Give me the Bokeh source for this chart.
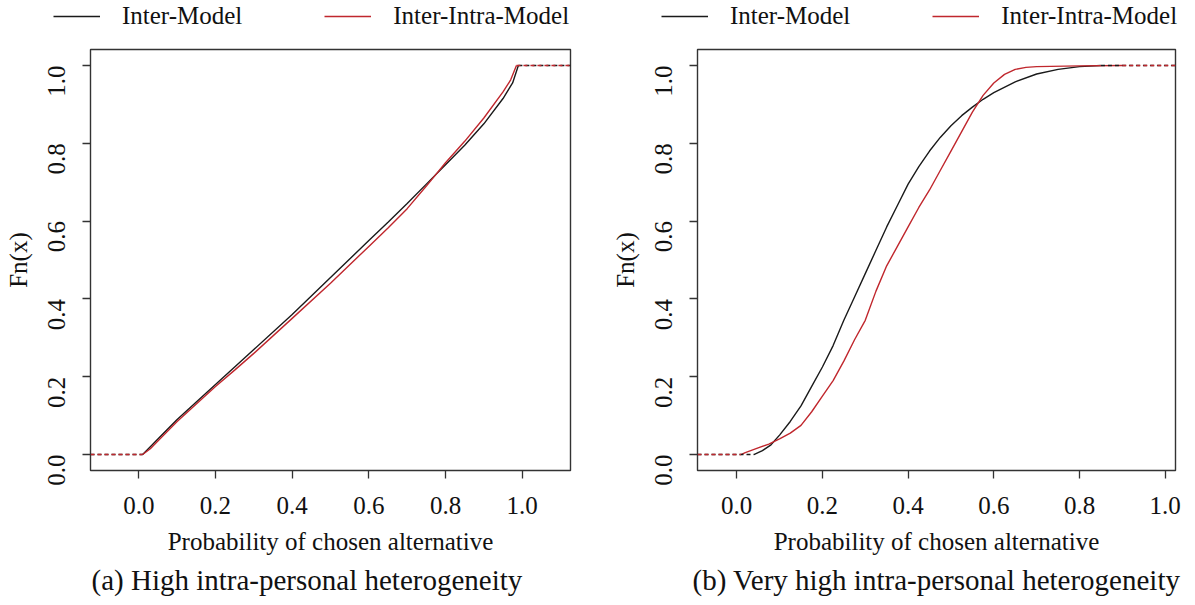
import math
from bokeh.plotting import figure
from bokeh.models import Legend, LegendItem, Title, FixedTicker, Range1d, NumeralTickFormatter
from bokeh.layouts import row, column
from bokeh.embed import file_html
from bokeh.resources import INLINE

FONT = "Liberation Serif"
BLACK = "#1a1a1a"
RED = "#c0272d"
TXT = "#111111"

series_names = ["Inter-Model", "Inter-Intra-Model"]
ticks = [0.0, 0.2, 0.4, 0.6, 0.8, 1.0]
y_label = "Fn(x)"
x_label = "Probability of chosen alternative"
captions = ["(a) High intra-personal heterogeneity",
            "(b) Very high intra-personal heterogeneity"]

# Panel (a): High intra-personal heterogeneity
a_inter_x = [0.01, 0.03, 0.06, 0.10, 0.15, 0.20, 0.25, 0.30, 0.40, 0.50, 0.60, 0.65, 0.70, 0.75, 0.80, 0.85, 0.90,
             0.95, 0.975, 0.99]
a_inter_y = [0.00, 0.02, 0.05, 0.09, 0.135, 0.18, 0.225, 0.27, 0.36, 0.455, 0.55, 0.597, 0.645, 0.695, 0.745, 0.795,
             0.85, 0.915, 0.955, 1.00]
a_intra_x = [0.01, 0.03, 0.06, 0.10, 0.15, 0.20, 0.25, 0.30, 0.40, 0.50, 0.60, 0.65, 0.70, 0.75, 0.80, 0.85, 0.90,
             0.95, 0.97, 0.985]
a_intra_y = [0.00, 0.015, 0.045, 0.085, 0.13, 0.175, 0.217, 0.26, 0.35, 0.44, 0.535, 0.582, 0.632, 0.69, 0.75, 0.805,
             0.865, 0.932, 0.963, 1.00]

# Panel (b): Very high intra-personal heterogeneity
b_inter_x = [0.04, 0.06, 0.08, 0.10, 0.125, 0.15, 0.175, 0.20, 0.225, 0.25, 0.275, 0.30, 0.325, 0.35, 0.375, 0.40,
             0.425, 0.45, 0.475, 0.50, 0.525, 0.55, 0.575, 0.60, 0.65, 0.70, 0.75, 0.80, 0.85]
b_inter_y = [0.00, 0.01, 0.025, 0.05, 0.085, 0.125, 0.175, 0.225, 0.28, 0.345, 0.405, 0.465, 0.525, 0.585, 0.64, 0.695,
             0.74, 0.78, 0.815, 0.845, 0.871, 0.893, 0.913, 0.93, 0.958, 0.978, 0.99, 0.997, 1.00]
b_intra_x = [0.01, 0.02, 0.05, 0.075, 0.10, 0.125, 0.15, 0.175, 0.20, 0.225, 0.25, 0.275, 0.30, 0.325, 0.35, 0.375,
             0.40, 0.425, 0.45, 0.475, 0.50, 0.525, 0.55, 0.575, 0.60, 0.625, 0.65, 0.675, 0.70, 0.80, 0.90]
b_intra_y = [0.00, 0.005, 0.017, 0.027, 0.04, 0.055, 0.075, 0.11, 0.15, 0.19, 0.24, 0.295, 0.345, 0.42, 0.485, 0.535,
             0.585, 0.635, 0.68, 0.73, 0.78, 0.83, 0.88, 0.923, 0.955, 0.977, 0.99, 0.995, 0.997, 0.999, 1.00]


def make_legend_strip(width, leg_x):
    s = figure(width=width, height=40, output_backend="svg", toolbar_location=None,
               x_range=Range1d(0, 1), y_range=Range1d(0, 1),
               x_axis_location=None, y_axis_location=None, min_border=0,
               min_border_left=0, min_border_right=0, min_border_top=0, min_border_bottom=0)
    s.outline_line_color = None
    s.grid.visible = False
    s.background_fill_color = "white"
    s.border_fill_color = "white"
    # legend proxies: kept outside the visible range so only the legend swatch shows
    rs = [s.line(x=[-5, -4], y=[-5, -4], line_color=c, line_width=1.4) for c in (BLACK, RED)]
    legend = Legend(items=[LegendItem(label=n, renderers=[r]) for n, r in zip(series_names, rs)],
                    orientation="horizontal", location=(leg_x, 10),
                    glyph_width=47, glyph_height=20, label_standoff=22, spacing=82,
                    padding=0, margin=0, border_line_color=None, background_fill_alpha=0,
                    label_text_font=FONT, label_text_font_size="25px", label_text_color=TXT)
    s.add_layout(legend)
    return s


def make_panel(xr, series, caption, width, bl, br, cap_align, cap_offset):
    p = figure(width=width, height=562, output_backend="svg", toolbar_location=None,
               x_range=Range1d(*xr), y_range=Range1d(-0.041, 1.041),
               min_border_left=bl, min_border_right=br, min_border_top=9, min_border_bottom=132)
    p.background_fill_color = "white"
    p.border_fill_color = "white"
    p.outline_line_color = "#333333"
    p.outline_line_width = 1.4
    p.grid.visible = False

    for (xs, ys), col in zip(series, [BLACK, RED]):
        p.line(xs, ys, line_color=col, line_width=1.4)
    for (xs, ys), col in zip(series, [BLACK, RED]):
        p.line([xr[0], xs[0]], [ys[0], ys[0]], line_color=col, line_width=1.6, line_dash="4 3")
        p.line([xs[-1], xr[1]], [ys[-1], ys[-1]], line_color=col, line_width=1.6, line_dash="4 3")

    for ax in (p.xaxis[0], p.yaxis[0]):
        ax.ticker = FixedTicker(ticks=ticks)
        ax.formatter = NumeralTickFormatter(format="0.0")
        ax.axis_line_color = None
        ax.major_tick_out = 8
        ax.major_tick_in = 0
        ax.major_tick_line_color = "#333333"
        ax.major_tick_line_width = 1.3
        ax.minor_tick_line_color = None
        ax.major_label_text_font = FONT
        ax.major_label_text_font_size = "25px"
        ax.major_label_text_color = TXT
        ax.axis_label_text_font = FONT
        ax.axis_label_text_font_size = "25px"
        ax.axis_label_text_font_style = "normal"
        ax.axis_label_text_color = TXT
    p.xaxis.axis_label = x_label
    p.xaxis.major_label_standoff = 18
    p.xaxis.axis_label_standoff = 11
    p.yaxis.axis_label = y_label
    p.yaxis.major_label_orientation = math.pi / 2
    p.yaxis.major_label_standoff = 26
    p.yaxis.axis_label_standoff = 5

    t = Title(text=caption, align=cap_align, offset=cap_offset, text_font=FONT, text_font_size="29px",
              text_font_style="normal", text_color=TXT, standoff=8)
    p.add_layout(t, "below")
    return p


la = make_legend_strip(600, 53)
lb = make_legend_strip(590, 61)
pa = make_panel((-0.126, 1.126), [(a_inter_x, a_inter_y), (a_intra_x, a_intra_y)], captions[0],
                600, 90, 30, "left", 1)
pb = make_panel((-0.0915, 1.024), [(b_inter_x, b_inter_y), (b_intra_x, b_intra_y)], captions[1],
                590, 97, 15, "center", 0)

layout = column(row(la, lb), row(pa, pb))
open("out.html", "w").write(file_html(layout, INLINE))
